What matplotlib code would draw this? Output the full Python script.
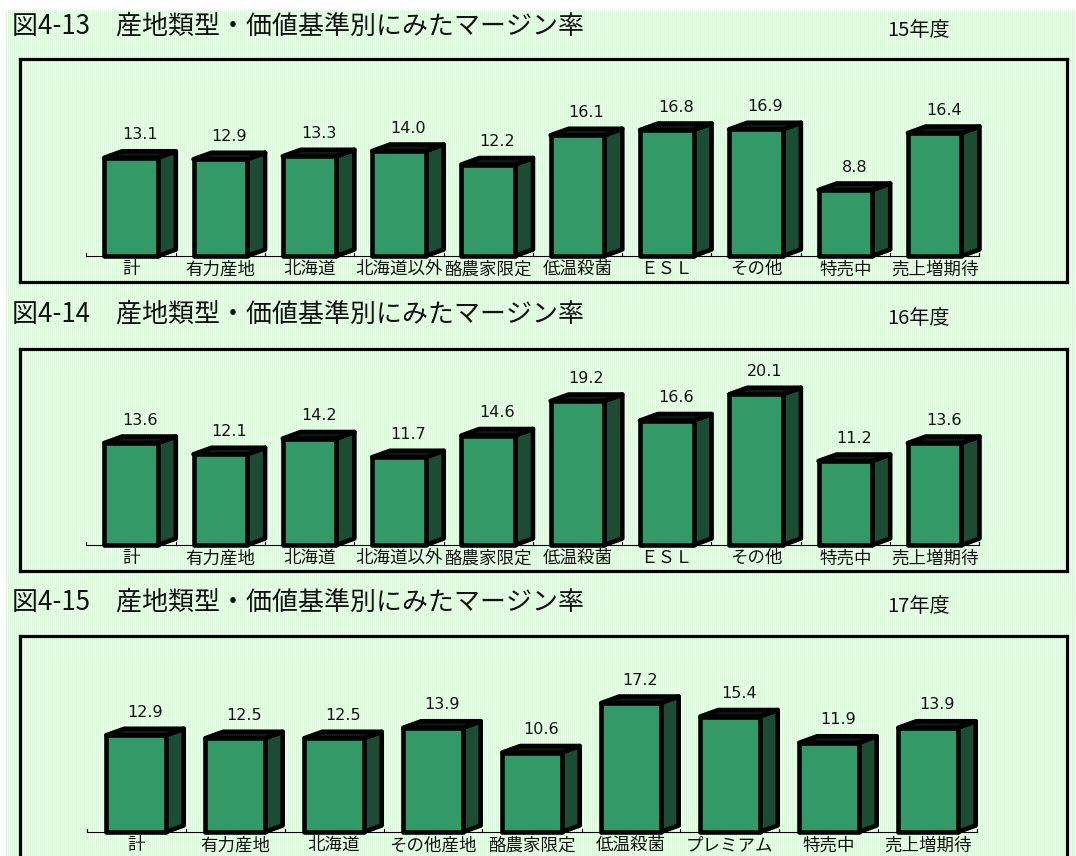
import numpy as np
import matplotlib
matplotlib.use("Agg")
import matplotlib.pyplot as plt
from matplotlib.patches import Polygon, Rectangle

# ---- data -------------------------------------------------------------
titles = ["図4-13　産地類型・価値基準別にみたマージン率",
          "図4-14　産地類型・価値基準別にみたマージン率",
          "図4-15　産地類型・価値基準別にみたマージン率"]
years = ["15年度", "16年度", "17年度"]

cats_15 = ["計", "有力産地", "北海道", "北海道以外", "酪農家限定",
           "低温殺菌", "ＥＳＬ", "その他", "特売中", "売上増期待"]
vals_15 = [13.1, 12.9, 13.3, 14.0, 12.2, 16.1, 16.8, 16.9, 8.8, 16.4]

cats_16 = ["計", "有力産地", "北海道", "北海道以外", "酪農家限定",
           "低温殺菌", "ＥＳＬ", "その他", "特売中", "売上増期待"]
vals_16 = [13.6, 12.1, 14.2, 11.7, 14.6, 19.2, 16.6, 20.1, 11.2, 13.6]

cats_17 = ["計", "有力産地", "北海道", "その他産地", "酪農家限定",
           "低温殺菌", "プレミアム", "特売中", "売上増期待"]
vals_17 = [12.9, 12.5, 12.5, 13.9, 10.6, 17.2, 15.4, 11.9, 13.9]

# ---- style ------------------------------------------------------------
W, H, DPI = 1076, 856, 100
JP = ["Noto Sans CJK JP", "DejaVu Sans"]
FRONT = "#339966"
SIDE = "#1c4d34"
TOP = "#0a1f14"
EDGE_LW = 3.3

fig = plt.figure(figsize=(W / DPI, H / DPI), dpi=DPI)
fig.patch.set_facecolor("white")

# striped pale-green paper
bg = np.ones((H, W, 3))
green = np.array([0xcc, 0xff, 0xcc]) / 255.0
bg[:, ::2, :] = green
bg[:10, :, :] = 1.0
bg[:, :5, :] = 1.0
fig.figimage(bg, xo=0, yo=0, origin="upper", zorder=-10)

# panel geometry in pixels: box (left, top, right, bottom), baseline,
# centre of first category, category pitch, pixels per percent
panels = [
    dict(box=(20, 59, 1067, 282), base=256, c0=131.0, pitch=89.3, scale=7.5,
         title_y=25.5, year_y=30, cats=cats_15, vals=vals_15, bottom_spine=True),
    dict(box=(20, 349, 1067, 571), base=545, c0=131.0, pitch=89.3, scale=7.5,
         title_y=314, year_y=318, cats=cats_16, vals=vals_16, bottom_spine=True),
    dict(box=(20, 636, 1067, 860), base=832, c0=136.0, pitch=99.0, scale=7.5,
         title_y=601.5, year_y=606, cats=cats_17, vals=vals_17, bottom_spine=False),
]

DEPTH_X_PX, DEPTH_Y_PX = 18.0, 6.5
FRONT_W = 0.60

for k, p in enumerate(panels):
    l, t, r, b = p["box"]
    ax = fig.add_axes([l / W, 1 - b / H, (r - l) / W, (b - t) / H])
    ax.set_xlim((l - p["c0"]) / p["pitch"], (r - p["c0"]) / p["pitch"])
    ax.set_ylim(-(b - p["base"]) / p["scale"], (p["base"] - t) / p["scale"])
    ax.patch.set_alpha(0)
    ax.set_xticks([])
    ax.set_yticks([])
    for name, sp in ax.spines.items():
        sp.set_linewidth(2.3)
        sp.set_color("black")
    if not p["bottom_spine"]:
        ax.spines["bottom"].set_visible(False)

    dx = DEPTH_X_PX / p["pitch"]
    dy = DEPTH_Y_PX / p["scale"]
    n = len(p["vals"])

    # floor line with category boundary ticks
    ax.plot([-0.5, n - 0.5], [0, 0], color="black", lw=0.8, zorder=1)
    for bnd in np.arange(-0.5, n, 1.0):
        ax.plot([bnd, bnd], [0, 3.5 / p["scale"]], color="black", lw=0.8, zorder=1)

    for i, (cat, v) in enumerate(zip(p["cats"], p["vals"])):
        x0, x1 = i - FRONT_W / 2, i + FRONT_W / 2
        side = Polygon([(x1, 0), (x1 + dx, dy), (x1 + dx, v + dy), (x1, v)],
                       closed=True, facecolor=SIDE, edgecolor="black",
                       lw=EDGE_LW, joinstyle="round", zorder=3)
        top = Polygon([(x0, v), (x0 + dx, v + dy), (x1 + dx, v + dy), (x1, v)],
                      closed=True, facecolor=TOP, edgecolor="black",
                      lw=EDGE_LW, joinstyle="round", zorder=3)
        front = Rectangle((x0, 0), FRONT_W, v, facecolor=FRONT,
                          edgecolor="black", lw=EDGE_LW, joinstyle="round",
                          zorder=4)
        for patch in (side, top, front):
            ax.add_patch(patch)

        ax.annotate(f"{v:.1f}", (i + dx / 2, v + dy), xytext=(0, 8.5),
                    textcoords="offset points", ha="center", va="baseline",
                    fontsize=11.5, family="DejaVu Sans", color="#111111",
                    zorder=5)
        ax.annotate(cat, (i, 0), xytext=(0, -9.5), textcoords="offset points",
                    ha="center", va="center", fontsize=12.6, family=JP,
                    color="#111111", annotation_clip=False, zorder=5)

    fig.text(12 / W, 1 - p["title_y"] / H, titles[k], ha="left", va="center",
             fontsize=18.7, family=JP, color="#111111")
    fig.text(887 / W, 1 - p["year_y"] / H, years[k], ha="left", va="center",
             fontsize=14.5, family=JP, color="#111111")

fig.savefig("out.png", dpi=DPI)
